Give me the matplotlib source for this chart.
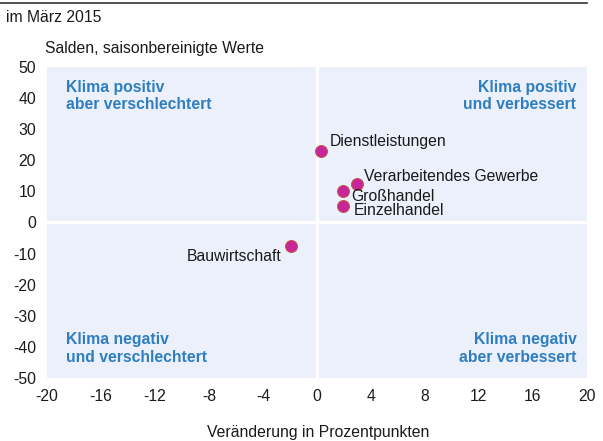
import matplotlib
matplotlib.use("Agg")
import matplotlib.pyplot as plt

plt.rcParams['font.family'] = ['Liberation Sans', 'DejaVu Sans']

# data
sectors = ['Dienstleistungen', 'Verarbeitendes Gewerbe', 'Großhandel', 'Einzelhandel', 'Bauwirtschaft']
change = [0.3, 3.0, 1.9, 1.9, -1.9]
balance = [23.0, 12.5, 10.0, 5.2, -7.7]
x_ticks = [-20, -16, -12, -8, -4, 0, 4, 8, 12, 16, 20]
y_ticks = [50, 40, 30, 20, 10, 0, -10, -20, -30, -40, -50]

bg = '#EBF0FB'
blue = '#2E7EC1'
dot = '#C8259A'
fs = 11.3

fig = plt.figure(figsize=(6.03, 4.41), dpi=100)
ax = fig.add_axes([0.078, 0.143, 0.895, 0.705])
ax.set_facecolor(bg)
ax.set_xlim(-20, 20)
ax.set_ylim(-50, 50)
for s in ax.spines.values():
    s.set_visible(False)
ax.axvline(0, color='white', lw=2.2)
ax.axhline(0, color='white', lw=2.2)

ax.scatter(change, balance, s=72, color=dot, edgecolor='#C0504D', linewidth=0.8, zorder=3)

# label offsets (points)
offsets = {
    'Dienstleistungen': (6, 7, 'left'),
    'Verarbeitendes Gewerbe': (5, 5, 'left'),
    'Großhandel': (6, -4, 'left'),
    'Einzelhandel': (8, -3, 'left'),
    'Bauwirtschaft': (-7, -7, 'right'),
}
for name, x, y in zip(sectors, change, balance):
    dx, dy, ha = offsets[name]
    ax.annotate(name, (x, y), xytext=(dx, dy), textcoords='offset points',
                ha=ha, va='center', fontsize=fs, color='#1a1a1a')

ax.set_xticks(x_ticks)
ax.set_yticks(y_ticks)
ax.set_xticklabels([str(v) for v in x_ticks])
ax.set_yticklabels([str(v) for v in y_ticks])
ax.tick_params(length=0, labelsize=fs, colors='#1a1a1a')
ax.tick_params(axis='y', pad=8)
ax.tick_params(axis='x', pad=8)

kw = dict(color=blue, fontsize=fs, fontweight='bold', linespacing=1.2)
ax.text(0.035, 0.958, 'Klima positiv\naber verschlechtert', transform=ax.transAxes, ha='left', va='top', **kw)
ax.text(0.981, 0.958, 'Klima positiv\nund verbessert', transform=ax.transAxes, ha='right', va='top', **kw)
ax.text(0.035, 0.043, 'Klima negativ\nund verschlechtert', transform=ax.transAxes, ha='left', va='bottom', **kw)
ax.text(0.981, 0.043, 'Klima negativ\naber verbessert', transform=ax.transAxes, ha='right', va='bottom', **kw)

fig.text(6 / 603, 1 - 18 / 441, 'im März 2015', fontsize=fs, va='center', color='#1a1a1a')
fig.text(45 / 603, 1 - 49 / 441, 'Salden, saisonbereinigte Werte', fontsize=fs, va='center', color='#1a1a1a')
fig.text(318 / 603, 1 - 433 / 441, 'Veränderung in Prozentpunkten', fontsize=fs, ha='center', va='center', color='#1a1a1a')

# top rule
fig.add_artist(plt.Line2D([0, 587 / 603], [1 - 2.5 / 441, 1 - 2.5 / 441], color='#333333', lw=1.2))

fig.savefig('out.png', dpi=100)
